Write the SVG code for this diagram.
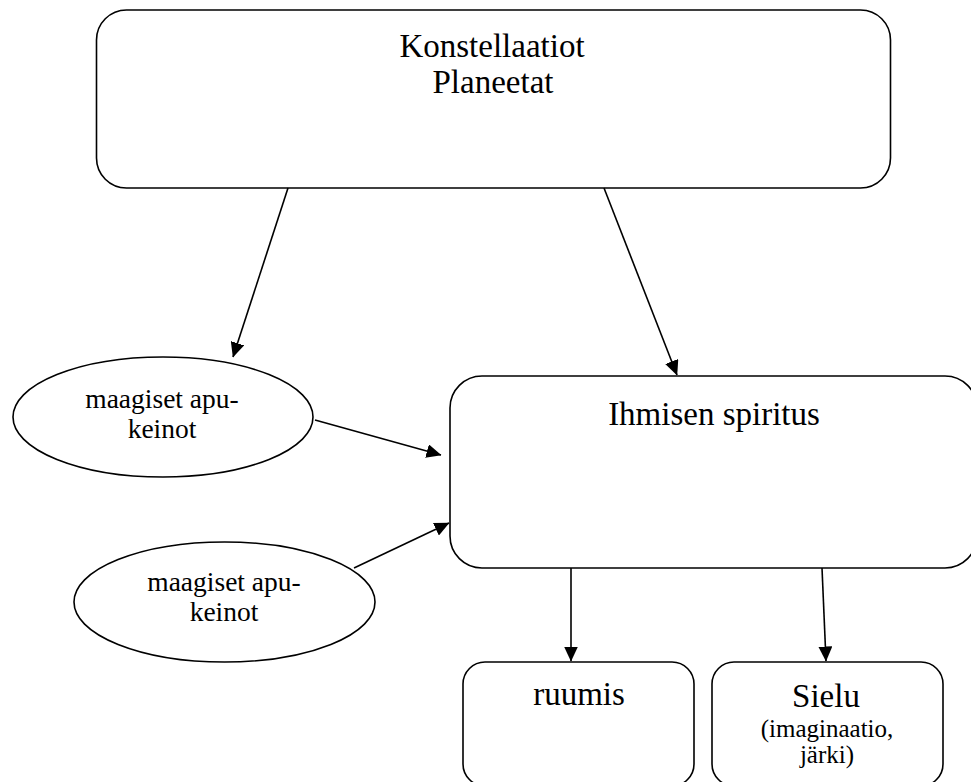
<svg xmlns="http://www.w3.org/2000/svg" width="971" height="782" viewBox="0 0 971 782">
<defs>
<marker id="ah" markerUnits="userSpaceOnUse" markerWidth="15" markerHeight="14" refX="14.5" refY="7" orient="auto">
<path d="M0,0 L15,7 L0,14 z" fill="#000"/>
</marker>
<style>
.box{fill:#fff;stroke:#000;stroke-width:1.6}
.t{font-family:"Liberation Serif","Times New Roman",serif;fill:#000;text-anchor:middle}
.big{font-size:33px}
.sm{font-size:27.5px}
.xs{font-size:25px}
.c{stroke:#000;stroke-width:1.6;fill:none;marker-end:url(#ah)}
</style>
</defs>
<rect width="971" height="782" fill="#fff"/>
<g id="konstellaatiot">
<rect class="box" x="96.5" y="10" width="794" height="178" rx="30"/>
<text class="t big" x="492" y="57">Konstellaatiot</text>
<text class="t big" x="493" y="93">Planeetat</text>
</g>
<g id="apukeinot1">
<ellipse class="box" cx="163" cy="417" rx="150" ry="60"/>
<text class="t sm" x="162" y="408">maagiset apu-</text>
<text class="t sm" x="162" y="438">keinot</text>
</g>
<g id="apukeinot2">
<ellipse class="box" cx="224.5" cy="602" rx="150.5" ry="60"/>
<text class="t sm" x="224" y="591">maagiset apu-</text>
<text class="t sm" x="224" y="621">keinot</text>
</g>
<g id="spiritus">
<rect class="box" x="450" y="376" width="527" height="192" rx="32"/>
<text class="t big" x="714" y="425">Ihmisen spiritus</text>
</g>
<g id="ruumis">
<rect class="box" x="463" y="662" width="231" height="124" rx="22"/>
<text class="t big" x="579" y="705">ruumis</text>
</g>
<g id="sielu">
<rect class="box" x="712" y="662" width="231" height="124" rx="22"/>
<text class="t big" x="826" y="707">Sielu</text>
<text class="t xs" x="827" y="737">(imaginaatio,</text>
<text class="t xs" x="827" y="763">järki)</text>
</g>
<g id="connectors">
<line class="c" x1="288" y1="188" x2="233" y2="357"/>
<line class="c" x1="604" y1="188" x2="677" y2="375"/>
<line class="c" x1="315" y1="420" x2="441" y2="455"/>
<line class="c" x1="354" y1="568" x2="449" y2="523"/>
<line class="c" x1="571" y1="568" x2="571" y2="661"/>
<line class="c" x1="822" y1="568" x2="826" y2="661"/>
</g>
</svg>
